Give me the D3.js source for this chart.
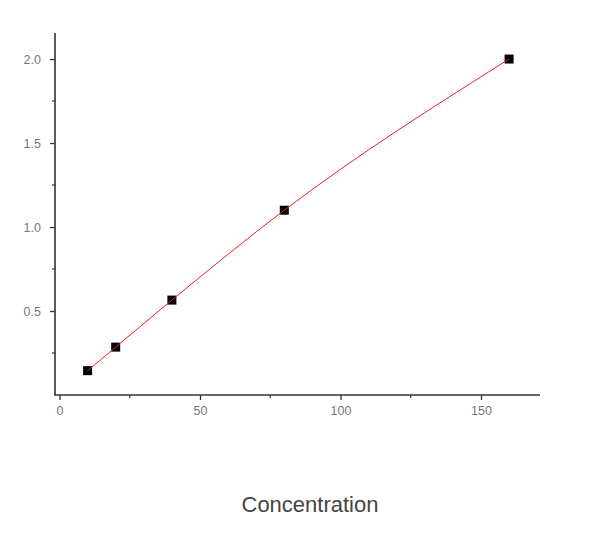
<!DOCTYPE html>
<html>
<head>
<meta charset="utf-8">
<script src="https://d3js.org/d3.v7.min.js"></script>
<style>
  body { margin: 0; background: #fff; }
  svg { display: block; font-family: "Liberation Sans", Arial, sans-serif; }
</style>
</head>
<body>
<div id="area_1"></div>
<script>
// standard curve points (concentration vs OD)
var concentration = [10, 20, 40, 80, 160]
var od = [0.145, 0.285, 0.565, 1.1, 2.0]

var xTicks = [0, 50, 100, 150]
var xMinor = [25, 75, 125]
var yTicks = [0.5, 1.0, 1.5, 2.0]
var yMinor = [0.25, 0.75, 1.25, 1.75]
var xTitle = "Concentration"

var width = 600, height = 546

var svg = d3.select("#area_1")
  .append("svg")
  .attr("width", width)
  .attr("height", height)

// axis frame: x runs 55..540, y runs 395..33
var x = d3.scaleLinear().domain([-1.6, 171]).range([55, 540])
var y = d3.scaleLinear().domain([0, 2.155]).range([395, 33])

var data = concentration.map(function(c, i) { return {c: c, v: od[i]} })

// minor ticks
svg.append("g")
  .selectAll("line")
  .data(xMinor)
  .enter()
  .append("line")
    .attr("x1", function(d) { return x(d) })
    .attr("x2", function(d) { return x(d) })
    .attr("y1", 395)
    .attr("y2", 398)
    .style("stroke", "#333")
    .style("stroke-width", 1.2)

svg.append("g")
  .selectAll("line")
  .data(yMinor)
  .enter()
  .append("line")
    .attr("x1", 52)
    .attr("x2", 55)
    .attr("y1", function(d) { return y(d) })
    .attr("y2", function(d) { return y(d) })
    .style("stroke", "#333")
    .style("stroke-width", 1.2)

var xAxis = svg.append("g")
  .attr("transform", "translate(0,395)")
  .call(d3.axisBottom(x).tickValues(xTicks).tickSize(5).tickPadding(6).tickSizeOuter(0))
xAxis.select(".domain").remove()
xAxis.selectAll("line").style("stroke", "#333").style("stroke-width", 1.3)
xAxis.selectAll("text").style("fill", "#777").style("font-size", "12.5px")

var yAxis = svg.append("g")
  .attr("transform", "translate(55,0)")
  .call(d3.axisLeft(y).tickValues(yTicks).tickFormat(d3.format(".1f")).tickSize(5).tickPadding(9).tickSizeOuter(0))
yAxis.select(".domain").remove()
yAxis.selectAll("line").style("stroke", "#333").style("stroke-width", 1.3)
yAxis.selectAll("text").style("fill", "#777").style("font-size", "12.5px")

// axis lines
svg.append("line")
  .attr("x1", 55).attr("x2", 55).attr("y1", 33).attr("y2", 395.5)
  .style("stroke", "#333").style("stroke-width", 1.6)
svg.append("line")
  .attr("x1", 54.5).attr("x2", 540).attr("y1", 395).attr("y2", 395)
  .style("stroke", "#333").style("stroke-width", 1.6)

// points
svg.append("g")
  .selectAll("rect")
  .data(data)
  .enter()
  .append("rect")
    .attr("x", function(d) { return x(d.c) - 4.5 })
    .attr("y", function(d) { return y(d.v) - 4.5 })
    .attr("width", 9)
    .attr("height", 9)
    .style("fill", "#000")

// fitted line
var line = d3.line()
  .x(function(d) { return x(d.c) })
  .y(function(d) { return y(d.v) })
  .curve(d3.curveMonotoneX)

svg.append("path")
  .datum(data)
  .attr("d", line)
  .style("fill", "none")
  .style("stroke", "#f0202a")
  .style("stroke-width", 1)

svg.append("text")
  .attr("x", 310)
  .attr("y", 512)
  .attr("text-anchor", "middle")
  .style("font-size", "22px")
  .style("fill", "#444")
  .text(xTitle)
</script>
</body>
</html>
